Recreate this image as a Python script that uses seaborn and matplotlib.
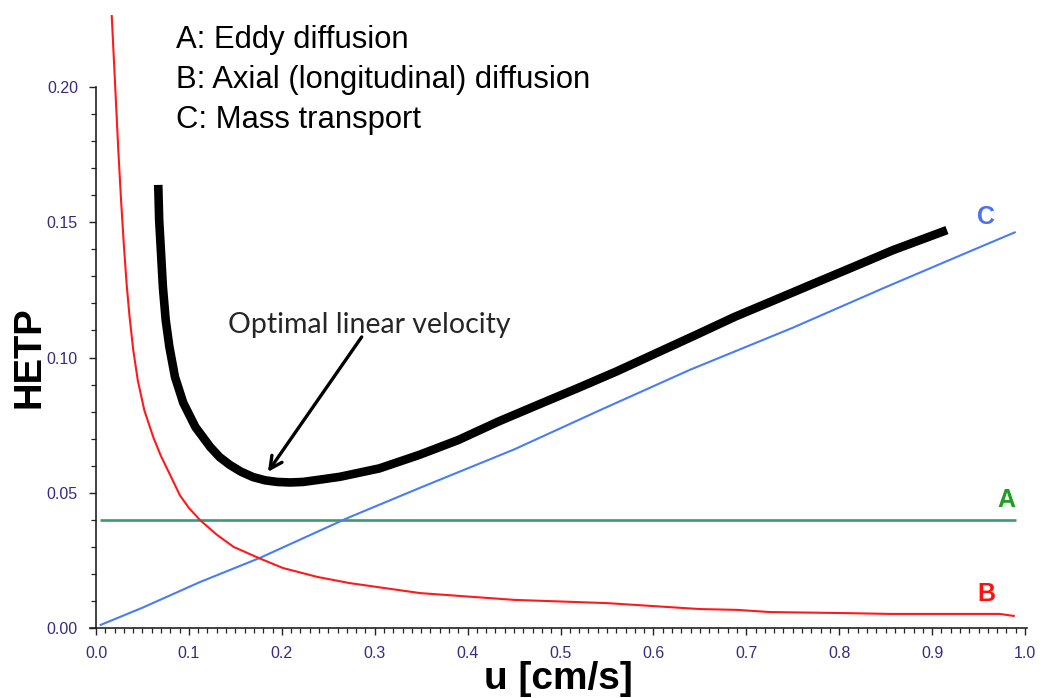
import numpy as np
import pandas as pd
import matplotlib
matplotlib.use("Agg")
import matplotlib.pyplot as plt
import seaborn as sns
from matplotlib.ticker import MultipleLocator, FixedLocator

# ---- data ----
hetp_u = [0.067, 0.068, 0.070, 0.072, 0.075, 0.079, 0.085, 0.094, 0.107, 0.123, 0.133, 0.144,
          0.156, 0.169, 0.182, 0.195, 0.209, 0.223, 0.240, 0.2626, 0.305, 0.348, 0.390, 0.433,
          0.475, 0.518, 0.560, 0.603, 0.6455, 0.688, 0.731, 0.773, 0.816, 0.858, 0.916]
hetp_h = [0.1638, 0.1508, 0.1386, 0.1261, 0.1139, 0.1039, 0.0928, 0.0832, 0.0743, 0.0669, 0.0632, 0.0603,
          0.0578, 0.0558, 0.0546, 0.0540, 0.0538, 0.0540, 0.0548, 0.0559, 0.0590, 0.0640, 0.0695, 0.0763,
          0.0824, 0.0886, 0.0948, 0.1016, 0.1083, 0.1151, 0.1213, 0.1274, 0.1336, 0.1397, 0.1471]

a_u = [0.004, 0.99]
a_h = [0.040, 0.040]

b_u = [0.0169, 0.0205, 0.024, 0.027, 0.030, 0.033, 0.036, 0.040, 0.045, 0.052, 0.0617, 0.070,
       0.0778, 0.0904, 0.100, 0.112, 0.130, 0.148, 0.175, 0.201, 0.238, 0.273, 0.349, 0.45, 0.55,
       0.65, 0.69, 0.725, 0.808, 0.855, 0.973, 0.989]
b_h = [0.2266, 0.2014, 0.1767, 0.1580, 0.1415, 0.1270, 0.1155, 0.1030, 0.0915, 0.0805, 0.0705, 0.0635,
       0.0580, 0.0490, 0.0444, 0.0399, 0.0345, 0.0300, 0.0259, 0.0222, 0.0189, 0.0166, 0.0129, 0.0104, 0.0092,
       0.0070, 0.0067, 0.0059, 0.0055, 0.0052, 0.0052, 0.0044]

c_u = [0.004, 0.05, 0.112, 0.177, 0.271, 0.35, 0.45, 0.543, 0.639, 0.75, 0.85, 0.952, 0.99]
c_h = [0.001, 0.0075, 0.017, 0.026, 0.0407, 0.052, 0.066, 0.0806, 0.0954, 0.111, 0.126, 0.1409, 0.1464]

x_ticks = [0.0, 0.1, 0.2, 0.3, 0.4, 0.5, 0.6, 0.7, 0.8, 0.9, 1.0]
y_ticks = [0.00, 0.05, 0.10, 0.15, 0.20]
legend_lines = ["A: Eddy diffusion", "B: Axial (longitudinal) diffusion", "C: Mass transport"]

# ---- styling ----
sns.set_style("white")
plt.rcParams['font.family'] = ['Liberation Sans', 'DejaVu Sans']

W, H = 1042, 698
fig = plt.figure(figsize=(W / 100, H / 100), dpi=100)

x0, x1 = -0.006, 1.002
px0 = 96 + x0 * 929
px1 = 96 + x1 * 929
ax = fig.add_axes([px0 / W, (H - 628) / H, (px1 - px0) / W, 628 / H])
ax.set_xlim(x0, x1)
ax.set_ylim(0, 628 / 2705)

green_line = '#3a9a6e'
red = '#ff1a1a'
blue = '#4a7cf2'

sns.lineplot(x=a_u, y=a_h, ax=ax, color=green_line, linewidth=1.9, estimator=None)
sns.lineplot(x=c_u, y=c_h, ax=ax, color=blue, linewidth=1.5, estimator=None)
sns.lineplot(x=b_u, y=b_h, ax=ax, color=red, linewidth=1.5, estimator=None)
sns.lineplot(x=hetp_u, y=hetp_h, ax=ax, color='black', linewidth=6.2, estimator=None)
for ln in ax.get_lines():
    ln.set_solid_joinstyle('round')
    ln.set_solid_capstyle('butt')

# curve labels
ax.text(0.980, 0.0473, 'A', color='#1f9e22', fontsize=18, fontweight='bold', ha='center', va='center')
ax.text(0.958, 0.0126, 'B', color='#ff1010', fontsize=18, fontweight='bold', ha='center', va='center')
ax.text(0.958, 0.1520, 'C', color='#4a72f0', fontsize=18, fontweight='bold', ha='center', va='center')

# annotation
ax.text(0.142, 0.1120, 'Optimal linear velocity', fontsize=20.5,
        family=['Lato', 'DejaVu Sans'], ha='left', va='center')
ax.annotate('', xy=(0.185, 0.0577), xytext=(0.286, 0.1076),
            arrowprops=dict(arrowstyle='->', color='black', lw=2.4, mutation_scale=22,
                            shrinkA=0, shrinkB=0))

# spines and ticks
ax.spines['top'].set_visible(False)
ax.spines['right'].set_visible(False)
ax.spines['left'].set_position(('data', 0.0))
ax.spines['left'].set_bounds(0, 0.2)
for s in ['left', 'bottom']:
    ax.spines[s].set_color('#222222')
    ax.spines[s].set_linewidth(1.2)

ax.set_xticks(x_ticks)
ax.set_xticklabels([f"{v:.1f}" for v in x_ticks])
ax.set_yticks(y_ticks)
ax.set_yticklabels([f"{v:.2f}" for v in y_ticks])
ax.xaxis.set_minor_locator(MultipleLocator(0.01))
ax.yaxis.set_minor_locator(FixedLocator([v / 100 for v in range(0, 21) if v % 5]))
ax.tick_params(axis='both', which='major', direction='out', length=5, width=1.0,
               color='#222222', labelsize=11.5, labelcolor='#3b2a80', left=True, bottom=True)
ax.tick_params(axis='both', which='minor', direction='out', length=3.5, width=0.9,
               color='#222222', left=True, bottom=True)
ax.tick_params(axis='y', which='major', pad=8)
ax.tick_params(axis='x', which='major', pad=8)
ax.grid(False)

# axis titles
fig.text(29 / W, 1 - 357 / H, 'HETP', rotation=90, ha='center', va='center',
         fontsize=27.5, fontweight='bold', color='black')
fig.text(558 / W, 9 / H, 'u [cm/s]', ha='center', va='baseline',
         fontsize=28, fontweight='bold', color='black')

# legend text block
for i, t in enumerate(legend_lines):
    fig.text(176 / W, 1 - (48 + 40 * i) / H, t, ha='left', va='baseline',
             fontsize=22.3, color='black')

fig.savefig('out.png', dpi=100)
